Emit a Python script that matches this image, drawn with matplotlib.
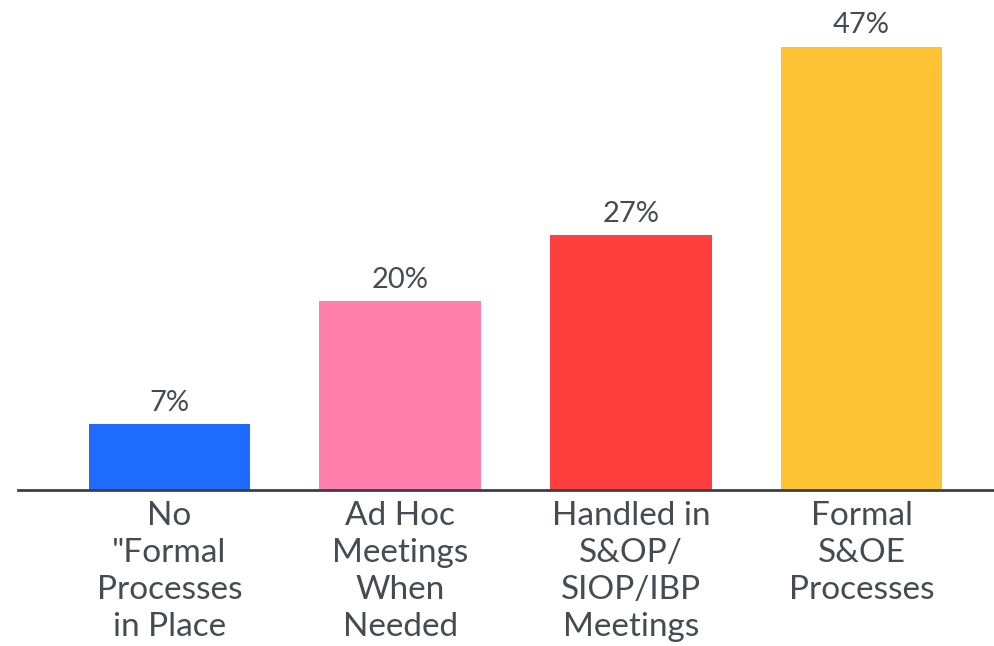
import matplotlib.pyplot as plt

# données
categories = ['No\n"Formal\nProcesses\nin Place',
              'Ad Hoc\nMeetings\nWhen\nNeeded',
              'Handled in\nS&OP/\nSIOP/IBP\nMeetings',
              'Formal\nS&OE\nProcesses']
valeurs = [7, 20, 27, 47]
couleurs = ['#1f6bff', '#ff7eaa', '#ff3f3e', '#ffc234']

plt.rcParams['font.family'] = ['Lato', 'DejaVu Sans']
texte = '#474a52'

fig = plt.figure(figsize=(9.94, 6.46), dpi=100)
ax = fig.add_axes([0.018, 0.2415, 0.982, 0.7585])

x = list(range(len(valeurs)))
barres = ax.bar(x, valeurs, width=0.7, color=couleurs)

# étiquettes de pourcentage
for b, v in zip(barres, valeurs):
    ax.annotate(f'{v}%', (b.get_x() + b.get_width() / 2, v),
                xytext=(0, 6), textcoords='offset points',
                ha='center', va='bottom', fontsize=21, color=texte)

ax.set_xlim(-0.657, 3.574)
ax.set_ylim(0, 51.96)

ax.set_xticks(x)
ax.set_xticklabels(categories, fontsize=24, color=texte, linespacing=1.29)
ax.tick_params(axis='x', length=0, pad=8)
ax.set_yticks([])

for s in ['top', 'right', 'left']:
    ax.spines[s].set_visible(False)
ax.spines['bottom'].set_color('#3a3f4a')
ax.spines['bottom'].set_linewidth(2)

fig.savefig('out.png', dpi=100)
